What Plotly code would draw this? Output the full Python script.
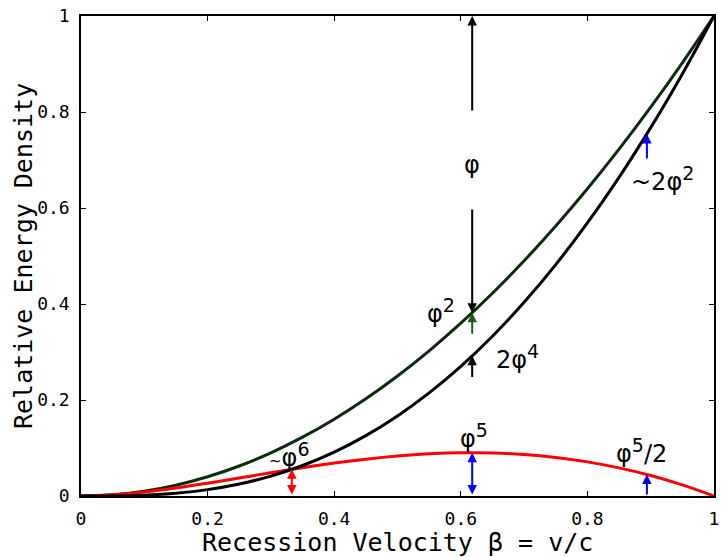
import plotly.graph_objects as go

# Recession velocity samples and the three energy-density curves
beta = [0.00, 0.05, 0.10, 0.15, 0.20, 0.25, 0.30, 0.35, 0.40, 0.45, 0.50,
        0.55, 0.60, 0.65, 0.70, 0.75, 0.80, 0.85, 0.90, 0.95, 1.00]
upper = [0.000, 0.0025, 0.010, 0.0225, 0.040, 0.0625, 0.090, 0.1225, 0.160, 0.2025, 0.250,
         0.3025, 0.360, 0.4225, 0.490, 0.5625, 0.640, 0.7225, 0.810, 0.9025, 1.000]
lower = [0.000, 0.0002, 0.0018, 0.0059, 0.0133, 0.0250, 0.0415, 0.0635, 0.0914, 0.1257, 0.1667,
         0.2147, 0.2700, 0.3329, 0.4035, 0.4821, 0.5689, 0.6639, 0.7674, 0.8794, 1.000]
gap = [0.000, 0.0023, 0.0082, 0.0166, 0.0267, 0.0375, 0.0485, 0.0590, 0.0686, 0.0768, 0.0833,
       0.0878, 0.0900, 0.0896, 0.0865, 0.0804, 0.0711, 0.0586, 0.0426, 0.0231, 0.000]

x_ticks = [0, 0.2, 0.4, 0.6, 0.8, 1]
y_ticks = [0, 0.2, 0.4, 0.6, 0.8, 1]

# Arrow marks: x, tail y, head y, colour, double-headed
arrow_x = [0.618, 0.618, 0.618, 0.618, 0.894, 0.333, 0.618, 0.894]
arrow_tail = [0.80, 0.60, 0.335, 0.245, 0.700, 0.000, 0.000, 0.000]
arrow_head = [1.00, 0.382, 0.382, 0.292, 0.754, 0.0556, 0.090, 0.045]
arrow_color = ["black", "black", "#1f5a1f", "black", "blue", "red", "blue", "blue"]
arrow_double = [False, False, False, False, False, True, True, False]


def sup(s):
    return f"<sup><span style='font-size:19px'>{s}</span></sup>"


# Text labels: text, x, y, horizontal anchor
label_text = ["φ", "φ" + sup("2"), "2φ" + sup("4"), "~2φ" + sup("2"),
              "<span style='font-size:15px'>~</span>φ" + sup("6"),
              "φ" + sup("5"), "φ" + sup("5") + "/2"]
label_x = [0.618, 0.594, 0.652, 0.866, 0.329, 0.621, 0.886]
label_y = [0.690, 0.385, 0.290, 0.660, 0.085, 0.125, 0.093]
label_anchor = ["center", "right", "left", "left", "center", "center", "center"]

fig = go.Figure()
line_w = 3
fig.add_trace(go.Scatter(x=beta, y=upper, mode="lines",
                         line=dict(color="#0c2a0c", width=line_w, shape="spline")))
fig.add_trace(go.Scatter(x=beta, y=gap, mode="lines",
                         line=dict(color="red", width=line_w, shape="spline")))
fig.add_trace(go.Scatter(x=beta, y=lower, mode="lines",
                         line=dict(color="black", width=line_w, shape="spline")))

annotations = []
for x, t, h, c, d in zip(arrow_x, arrow_tail, arrow_head, arrow_color, arrow_double):
    annotations.append(dict(
        x=x, y=h, ax=x, ay=t, xref="x", yref="y", axref="x", ayref="y",
        text="", showarrow=True, arrowhead=2, startarrowhead=2, arrowsize=0.95,
        startarrowsize=0.95, arrowwidth=2, arrowcolor=c, standoff=0, startstandoff=0,
        arrowside="end+start" if d else "end"))

for txt, x, y, anc in zip(label_text, label_x, label_y, label_anchor):
    annotations.append(dict(
        x=x, y=y, xref="x", yref="y", text=txt, showarrow=False,
        xanchor=anc, yanchor="middle",
        font=dict(family="DejaVu Sans", size=24, color="black")))

mono = "DejaVu Sans Mono"
annotations.append(dict(
    x=0.5, y=0, xref="paper", yref="paper", yshift=-46, yanchor="middle",
    text="Recession Velocity β = v/c", showarrow=False,
    font=dict(family=mono, size=25, color="black")))
annotations.append(dict(
    x=0, y=0.5, xref="paper", yref="paper", xshift=-58, xanchor="center",
    text="Relative Energy Density", textangle=-90, showarrow=False,
    font=dict(family=mono, size=25, color="black")))

axis_common = dict(
    range=[0, 1], showgrid=False, zeroline=False, showline=True,
    linecolor="black", linewidth=1.5, mirror="ticks", ticks="inside",
    ticklen=5, tickwidth=1, tickcolor="black", automargin=False,
    tickfont=dict(family=mono, size=18, color="black"))

fig.update_layout(
    width=724, height=557,
    margin=dict(l=81, r=10, t=16, b=61, autoexpand=False),
    paper_bgcolor="white", plot_bgcolor="white",
    showlegend=False,
    xaxis=dict(tickvals=x_ticks, ticktext=[f"{v:g}" for v in x_ticks],
               ticklabelstandoff=6, **axis_common),
    yaxis=dict(tickvals=y_ticks, ticktext=[f"{v:g}" for v in y_ticks],
               ticklabelstandoff=6, **axis_common),
    annotations=annotations,
)

fig.write_html("out.html")
